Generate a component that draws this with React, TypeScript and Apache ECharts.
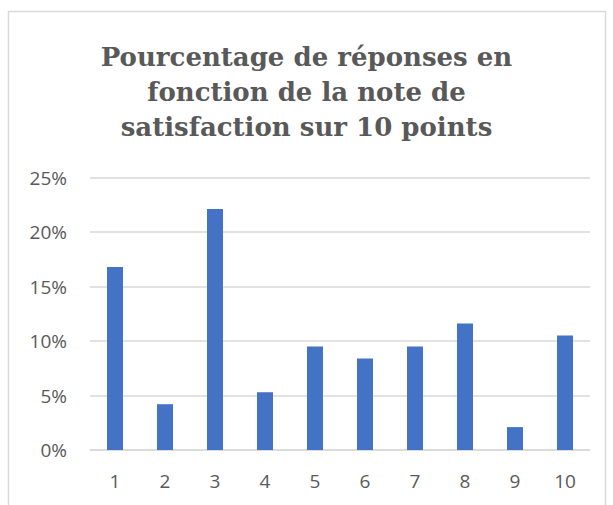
import React, { useEffect, useRef } from "react";
import * as echarts from "echarts";

const titleLines = [
  "Pourcentage de réponses en",
  "fonction de la note de",
  "satisfaction sur 10 points",
];
const categories = ["1", "2", "3", "4", "5", "6", "7", "8", "9", "10"];
const percentages = [16.8, 4.2, 22.1, 5.3, 9.5, 8.4, 9.5, 11.6, 2.1, 10.5];

export default function App() {
  const ref = useRef<HTMLDivElement>(null);
  useEffect(() => {
    document.body.style.margin = "0";
    const chart = echarts.init(ref.current!, null, { renderer: "svg" });
    chart.setOption({
      animation: false,
      backgroundColor: "#ffffff",
      graphic: [
        {
          type: "rect",
          shape: { x: 8.5, y: 11.5, width: 597, height: 500 },
          style: { fill: "none", stroke: "#d9d9d9", lineWidth: 1.5 },
          silent: true,
        },
      ],
      title: {
        text: titleLines.join("\n"),
        left: "center",
        top: 34,
        textStyle: {
          fontFamily: "DejaVu Serif",
          fontWeight: "bold",
          fontSize: 26,
          lineHeight: 35,
          color: "#595959",
        },
      },
      grid: { left: 90, right: 23, top: 177.5, bottom: 55 },
      xAxis: {
        type: "category",
        data: categories,
        axisLine: { show: true, lineStyle: { color: "#d9d9d9", width: 1.5 } },
        axisTick: { show: false },
        axisLabel: {
          color: "#595959",
          fontSize: 19,
          fontFamily: "Open Sans",
          margin: 21,
        },
      },
      yAxis: {
        type: "value",
        min: 0,
        max: 25,
        interval: 5,
        axisLine: { show: false },
        axisTick: { show: false },
        splitLine: { lineStyle: { color: "#d9d9d9", width: 1.5 } },
        axisLabel: {
          formatter: "{value}%",
          color: "#595959",
          fontSize: 19,
          fontFamily: "Open Sans",
          margin: 23,
        },
      },
      series: [
        {
          type: "bar",
          data: percentages,
          barWidth: 16,
          itemStyle: { color: "#4472c4" },
        },
      ],
    });
    return () => chart.dispose();
  }, []);
  return <div ref={ref} style={{ width: 613, height: 505 }} />;
}
